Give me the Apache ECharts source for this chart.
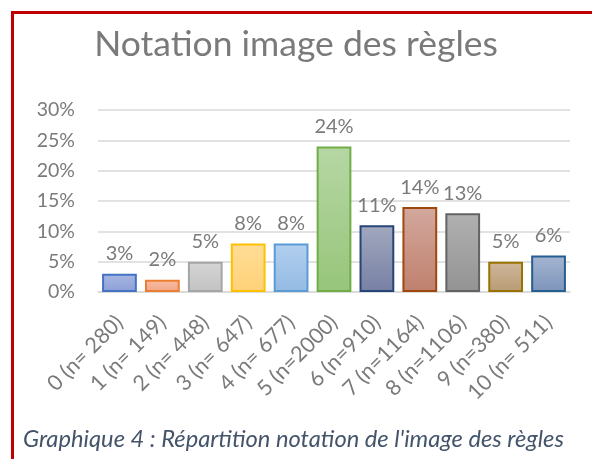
<!DOCTYPE html>
<html>
<head>
<meta charset="utf-8">
<script src="https://cdn.jsdelivr.net/npm/echarts@6/dist/echarts.min.js"></script>
<style>
html,body{margin:0;padding:0;background:#fff;}
#chart{width:592px;height:459px;}
</style>
</head>
<body>
<div id="chart"></div>
<script>
var categories = ["0 (n= 280)", "1 (n= 149)", "2 (n= 448)", "3 (n= 647)", "4 (n= 677)", "5 (n=2000)", "6 (n=910)", "7 (n=1164)", "8 (n=1106)", "9 (n=380)", "10 (n= 511)"];
var values = [0.03, 0.02, 0.05, 0.08, 0.08, 0.24, 0.11, 0.14, 0.13, 0.05, 0.06];
var yTicks = [0, 0.05, 0.10, 0.15, 0.20, 0.25, 0.30];

var borderColors = ["#4472C4", "#ED7D31", "#A5A5A5", "#FFC000", "#5B9BD5", "#70AD47", "#264478", "#9E480E", "#636363", "#997300", "#255E91"];
var topColors = ["#a8b7e3", "#f7bca4", "#d5d5d5", "#ffdc96", "#b2cfee", "#b6d7a4", "#a1a8bf", "#d3a89e", "#b1b1b1", "#cfb79b", "#a4b5d0"];
var bottomColors = ["#8c9fd6", "#f2a688", "#c2c2c2", "#ffd278", "#94bbe4", "#97c57a", "#7780a3", "#c0806d", "#939393", "#b89b74", "#7d94ba"];

var font = "Lato, 'Noto Sans', sans-serif";
var chart = echarts.init(document.getElementById('chart'));
var data = values.map(function (v, i) {
  return {
    value: v,
    itemStyle: {
      color: new echarts.graphic.LinearGradient(0, 0, 0, 1, [
        {offset: 0, color: topColors[i]},
        {offset: 1, color: bottomColors[i]}
      ]),
      borderColor: borderColors[i],
      borderWidth: 2
    }
  };
});
chart.setOption({
  animation: false,
  backgroundColor: '#ffffff',
  title: {
    text: 'Notation image des règles',
    left: 'center',
    top: 22,
    textStyle: {fontFamily: font, fontSize: 35.5, fontWeight: 'normal', color: '#7a7a7a'}
  },
  grid: {left: 98, right: 22, top: 110, bottom: 167, containLabel: false},
  xAxis: {
    type: 'category',
    data: categories,
    axisLine: {lineStyle: {color: '#d9d9d9', width: 1.5}},
    axisTick: {show: false},
    axisLabel: {
      interval: 0, rotate: 45, fontFamily: font, fontSize: 21.5, color: '#7a7a7a',
      margin: 27
    }
  },
  yAxis: {
    type: 'value',
    min: yTicks[0],
    max: yTicks[yTicks.length - 1],
    interval: yTicks[1] - yTicks[0],
    axisLine: {show: false},
    axisTick: {show: false},
    splitLine: {lineStyle: {color: '#d9d9d9', width: 1.5}},
    axisLabel: {
      fontFamily: font, fontSize: 19.5, color: '#7a7a7a', margin: 23,
      formatter: function (v) { return Math.round(v * 100) + '%'; }
    }
  },
  series: [{
    type: 'bar',
    data: data,
    barCategoryGap: '19%',
    label: {
      show: true,
      position: 'top',
      distance: 10,
      fontFamily: font,
      fontSize: 20,
      color: '#7a7a7a',
      formatter: function (p) { return Math.round(p.value * 100) + '%'; }
    }
  }],
  graphic: [
    {
      type: 'rect',
      shape: {x: 12.5, y: 12.5, width: 700, height: 700},
      style: {fill: 'none', stroke: '#c00000', lineWidth: 3},
      silent: true
    },
    {
      type: 'text',
      left: 23,
      top: 427,
      style: {
        text: "Graphique 4 : Répartition notation de l'image des règles",
        fontFamily: font,
        fontStyle: 'italic',
        fontSize: 23.7,
        fill: '#44546A'
      }
    }
  ]
});
</script>
</body>
</html>
